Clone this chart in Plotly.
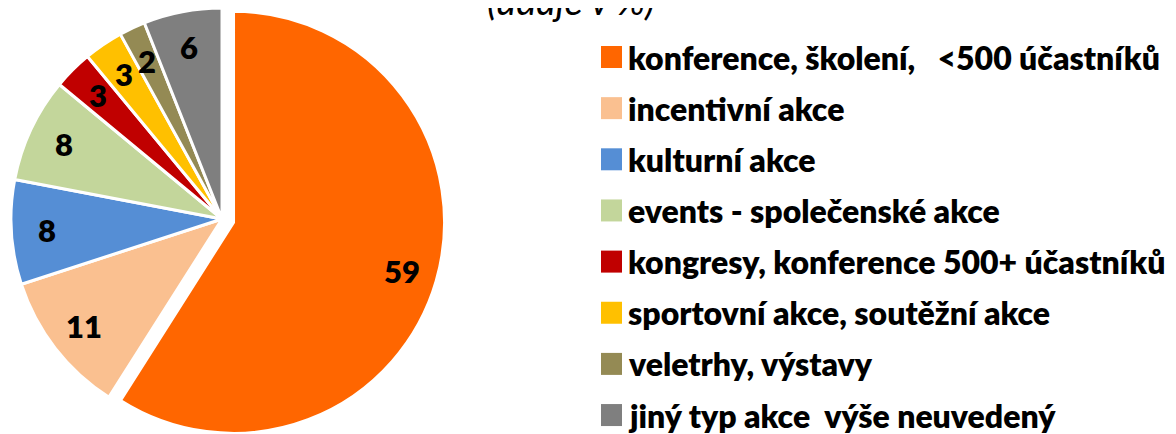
import math
import plotly.graph_objects as go

# ---- data ----
categories = [
    "konference, školení,\u00a0\u00a0 <500 účastníků",
    "incentivní akce",
    "kulturní akce",
    "events - společenské akce",
    "kongresy, konference 500+ účastníků",
    "sportovní akce, soutěžní akce",
    "veletrhy, výstavy",
    "jiný typ akce\u00a0 výše neuvedený",
]
values = [59, 11, 8, 8, 3, 3, 2, 6]
colors = ["#FF6600", "#FAC090", "#558ED5", "#C3D69B", "#C00000", "#FFC000", "#948A54", "#7F7F7F"]
title_text = "(údaje v %)"

# ---- layout constants (screen pixels; page body has an 8px margin) ----
OFF = 8
W, H = 1176 - OFF, 434 - OFF
CX, CY, R = 222 - OFF, 219 - OFF, 211
PULL_PX = 12
LABEL_FRAC = 0.83
FONT = "Lato"
BORDER = 3

total = sum(values)
mids = []
acc = 0
for v in values:
    mids.append(2 * math.pi * (acc + v / 2) / total)
    acc += v

def px_x(x):
    return x / W

def px_y(y):
    return 1 - y / H

def domain(cx, cy, r):
    return dict(x=[px_x(cx - r), px_x(cx + r)],
                y=[max(0.0, px_y(cy + r)), min(1.0, px_y(cy - r))])

ox = CX + PULL_PX * math.sin(mids[0])
oy = CY - PULL_PX * math.cos(mids[0])

transparent = "rgba(0,0,0,0)"
base_colors = ["white"] + colors[1:]
base_lines = ["white"] * len(values)
top_colors = [colors[0]] + [transparent] * (len(values) - 1)
top_lines = ["white"] + [transparent] * (len(values) - 1)

fig = go.Figure()
fig.add_trace(go.Pie(
    labels=categories, values=values, sort=False, direction="clockwise", rotation=0,
    marker=dict(colors=base_colors, line=dict(color=base_lines, width=BORDER)),
    textinfo="none", hoverinfo="label+value", showlegend=False,
    domain=domain(CX, CY, R),
))
fig.add_trace(go.Pie(
    labels=categories, values=values, sort=False, direction="clockwise", rotation=0,
    marker=dict(colors=top_colors, line=dict(color=top_lines, width=BORDER)),
    textinfo="none", hoverinfo="skip", showlegend=False,
    domain=domain(ox, oy, R),
))

annotations = []
for i, (v, a) in enumerate(zip(values, mids)):
    cx, cy = (ox, oy) if i == 0 else (CX, CY)
    d = LABEL_FRAC * R
    lx = cx + d * math.sin(a)
    ly = cy - d * math.cos(a)
    annotations.append(dict(
        x=px_x(lx), y=px_y(ly), xref="paper", yref="paper",
        text=str(v), showarrow=False, xanchor="center", yanchor="middle",
        font=dict(family=FONT, size=31, color="black", weight=800),
    ))

# legend (square swatches)
LEG_X = 601 - OFF
LEG_SW = 21
LEG_Y0 = 57 - OFF
LEG_DY = 51.15
shapes = []
for i, (lab, col) in enumerate(zip(categories, colors)):
    yc = LEG_Y0 + LEG_DY * i
    shapes.append(dict(
        type="rect", xref="paper", yref="paper",
        x0=px_x(LEG_X), x1=px_x(LEG_X + LEG_SW),
        y0=px_y(yc + 11), y1=px_y(yc - 11),
        fillcolor=col, line=dict(width=0),
    ))
    annotations.append(dict(
        x=px_x(LEG_X + 25), y=px_y(yc), xref="paper", yref="paper",
        text=lab, showarrow=False, xanchor="left", yanchor="middle",
        font=dict(family=FONT, size=32, color="black", weight=800),
    ))

# title, partly cut off at the top
annotations.append(dict(
    x=px_x(571 - OFF), y=px_y(17), xref="paper", yref="paper",
    text=f"<i>{title_text}</i>", showarrow=False, xanchor="center", yanchor="bottom",
    font=dict(family=FONT, size=38, color="black"),
))

fig.update_layout(
    width=W, height=H,
    margin=dict(l=0, r=0, t=0, b=0),
    paper_bgcolor="white", plot_bgcolor="white",
    annotations=annotations, shapes=shapes,
    showlegend=False,
)

fig.write_html("out.html")
